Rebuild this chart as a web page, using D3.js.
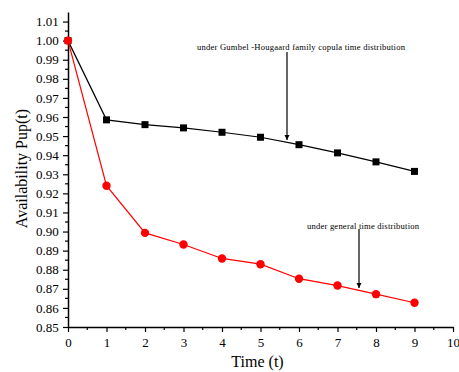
<!DOCTYPE html>
<html>
<head>
<meta charset="utf-8">
<script src="https://cdn.jsdelivr.net/npm/d3@7"></script>
<style>
  body { margin: 0; background: #fff; }
  svg { display: block; font-family: "Liberation Serif", "Times New Roman", serif; }
</style>
</head>
<body>
<svg id="chart" width="459" height="372"></svg>
<script>
// time points
var times = [0, 1, 2, 3, 4, 5, 6, 7, 8, 9];
// availability under Gumbel-Hougaard family copula
var copulaVals = [1.000, 0.9585, 0.9560, 0.9543, 0.9520, 0.9494, 0.9455, 0.9412, 0.9365, 0.9315];
// availability under general time distribution
var generalVals = [1.000, 0.9240, 0.8993, 0.8932, 0.8859, 0.8829, 0.8753, 0.8717, 0.8672, 0.8627];
var xTicks = [0, 1, 2, 3, 4, 5, 6, 7, 8, 9, 10];
var yTicks = [0.85, 0.86, 0.87, 0.88, 0.89, 0.90, 0.91, 0.92, 0.93, 0.94, 0.95, 0.96, 0.97, 0.98, 0.99, 1.00, 1.01];

var svg = d3.select("#chart");
var x = d3.scaleLinear().domain([0, 10]).range([68, 453]);
var y = d3.scaleLinear().domain([0.85, 1.015]).range([327, 12]);

// minor ticks
var xMinor = d3.range(0.5, 10, 1);
var yMinor = d3.range(0.855, 1.015, 0.01);

svg.append("g").selectAll("line").data(xMinor).enter().append("line")
  .attr("x1", function(d) { return x(d); }).attr("x2", function(d) { return x(d); })
  .attr("y1", y(0.85)).attr("y2", y(0.85) + 3)
  .attr("stroke", "#000").attr("stroke-width", 1.2);
svg.append("g").selectAll("line").data(yMinor).enter().append("line")
  .attr("y1", function(d) { return y(d); }).attr("y2", function(d) { return y(d); })
  .attr("x1", x(0)).attr("x2", x(0) - 3)
  .attr("stroke", "#000").attr("stroke-width", 1.2);

var xAxis = svg.append("g")
  .attr("transform", "translate(0," + y(0.85) + ")")
  .call(d3.axisBottom(x).tickValues(xTicks).tickFormat(d3.format("d")).tickSize(5).tickSizeOuter(0));
var yAxis = svg.append("g")
  .attr("transform", "translate(" + x(0) + ",0)")
  .call(d3.axisLeft(y).tickValues(yTicks).tickFormat(d3.format(".2f")).tickSize(5).tickSizeOuter(0));

[xAxis, yAxis].forEach(function(a) {
  a.attr("font-family", "Liberation Serif, serif");
  a.select(".domain").attr("stroke-width", 1.5);
  a.selectAll(".tick line").attr("stroke-width", 1.2);
  a.selectAll("text").attr("font-size", 13).attr("fill", "#000");
});
xAxis.selectAll("text").attr("dy", "0.9em");
yAxis.selectAll("text").attr("dx", "-0.1em");

// axis titles
svg.append("text").attr("x", x(5) - 3).attr("y", 367)
  .attr("text-anchor", "middle").attr("font-size", 16).text("Time (t)");
svg.append("text").attr("transform", "translate(27," + y(0.933) + ") rotate(-90)")
  .attr("text-anchor", "middle").attr("font-size", 16).text("Availability Pup(t)");

var line = d3.line()
  .x(function(d) { return x(d[0]); })
  .y(function(d) { return y(d[1]); });

var copulaData = times.map(function(t, i) { return [t, copulaVals[i]]; });
var generalData = times.map(function(t, i) { return [t, generalVals[i]]; });

svg.append("path").datum(copulaData).attr("d", line)
  .attr("fill", "none").attr("stroke", "#000").attr("stroke-width", 1.2);
svg.append("path").datum(generalData).attr("d", line)
  .attr("fill", "none").attr("stroke", "#f00").attr("stroke-width", 1.2);

svg.append("g").selectAll("rect").data(copulaData).enter().append("rect")
  .attr("x", function(d) { return x(d[0]) - 3.5; })
  .attr("y", function(d) { return y(d[1]) - 3.5; })
  .attr("width", 7).attr("height", 7).attr("fill", "#000");
svg.append("g").selectAll("circle").data(generalData).enter().append("circle")
  .attr("cx", function(d) { return x(d[0]); })
  .attr("cy", function(d) { return y(d[1]); })
  .attr("r", 4.2).attr("fill", "#f00");

// annotations with arrows
svg.append("defs").append("marker")
  .attr("id", "arrow").attr("viewBox", "0 0 10 10")
  .attr("refX", 10).attr("refY", 5)
  .attr("markerWidth", 5).attr("markerHeight", 10)
  .attr("markerUnits", "userSpaceOnUse")
  .attr("orient", "auto")
  .append("path").attr("d", "M0,0 L10,5 L0,10 Z").attr("fill", "#000");

svg.append("text").attr("x", 197).attr("y", 50)
  .attr("font-size", 8.6).attr("textLength", 208)
  .text("under Gumbel -Hougaard family copula time distribution");
svg.append("line").attr("x1", 287).attr("y1", 52).attr("x2", 287).attr("y2", 140)
  .attr("stroke", "#000").attr("stroke-width", 1.2).attr("marker-end", "url(#arrow)");

svg.append("text").attr("x", 307).attr("y", 229)
  .attr("font-size", 8.6).attr("textLength", 112)
  .text("under general time distribution");
svg.append("line").attr("x1", 359).attr("y1", 229).attr("x2", 359).attr("y2", 288)
  .attr("stroke", "#000").attr("stroke-width", 1.2).attr("marker-end", "url(#arrow)");
</script>
</body>
</html>
